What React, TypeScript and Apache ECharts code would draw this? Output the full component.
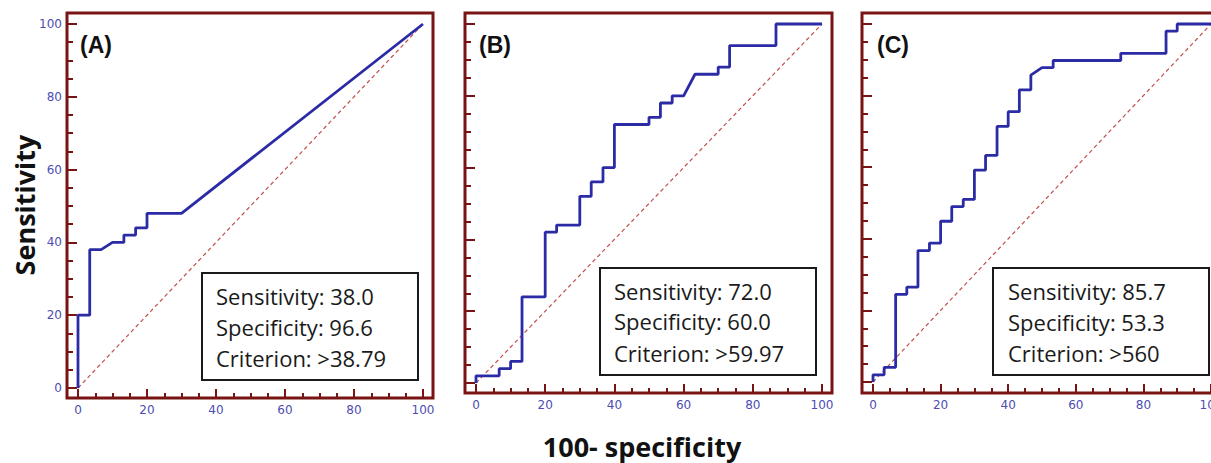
import React, { useEffect, useRef } from "react";
import * as echarts from "echarts";

// ROC curve points: [100 - specificity, sensitivity]
const rocA: number[][] = [
  [0, 0], [0, 20], [3.4, 20], [3.4, 38], [6.7, 38], [10, 40], [13.3, 40], [13.3, 42],
  [16.7, 42], [16.7, 44], [20, 44], [20, 48], [30, 48], [100, 100],
];
const rocB: number[][] = [
  [0, 0], [0, 2], [6.7, 2], [6.7, 4], [10, 4], [10, 6], [13.3, 6], [13.3, 24],
  [20, 24], [20, 42], [23.3, 42], [23.3, 44], [30, 44], [30, 52], [33.3, 52], [33.3, 56],
  [36.7, 56], [36.7, 60], [40, 60], [40, 72], [50, 72], [50, 74], [53.3, 74], [53.3, 78],
  [56.7, 78], [56.7, 80], [60, 80], [63.3, 86], [70, 86], [70, 88], [73.3, 88], [73.3, 94],
  [86.7, 94], [86.7, 100], [100, 100],
];
const rocC: number[][] = [
  [0, 0], [0, 2], [3.3, 2], [3.3, 4.1], [6.7, 4.1], [6.7, 24.5], [10, 24.5], [10, 26.5],
  [13.3, 26.5], [13.3, 36.7], [16.7, 36.7], [16.7, 38.8], [20, 38.8], [20, 44.9], [23.3, 44.9],
  [23.3, 49], [26.7, 49], [26.7, 51], [30, 51], [30, 59.2], [33.3, 59.2], [33.3, 63.3],
  [36.7, 63.3], [36.7, 71.4], [40, 71.4], [40, 75.5], [43.3, 75.5], [43.3, 81.6], [46.7, 81.6],
  [46.7, 85.7], [50, 87.8], [53.3, 87.8], [53.3, 89.8], [73.3, 89.8], [73.3, 91.8], [86.7, 91.8],
  [86.7, 98], [90, 98], [90, 100], [100, 100],
];
const reference: number[][] = [[0, 0], [100, 100]];
const majorTicks = [0, 20, 40, 60, 80, 100];
const minorTicks = [5, 10, 15, 25, 30, 35, 45, 50, 55, 65, 70, 75, 85, 90, 95];
const panelLabels = ["(A)", "(B)", "(C)"];
const boxLines = [
  ["Sensitivity: 38.0", "Specificity: 96.6", "Criterion: >38.79"],
  ["Sensitivity: 72.0", "Specificity: 60.0", "Criterion: >59.97"],
  ["Sensitivity: 85.7", "Specificity: 53.3", "Criterion: >560"],
];
const xTitle = "100- specificity";
const yTitle = "Sensitivity";

const FRAME = "#7a1414";
const CURVE = "#2b2ba6";
const LABEL = "#4d4db3";
const NUM_FONT = "'DejaVu Sans', Verdana, sans-serif";
const BOX_FONT = "'Open Sans', 'Noto Sans', sans-serif";

// layout (pixels): frame rect and where data 0 / 100 fall
const panels = [
  { frame: [67, 13, 433, 398], x0: 78, x100: 423, y0: 388, y100: 24, box: [202, 273, 216, 107], textX: 216, textY: [296, 327, 358], labelX: 80, yLabels: true },
  { frame: [465, 13, 832, 393], x0: 476, x100: 822, y0: 383, y100: 24, box: [600, 268, 216, 107], textX: 614, textY: [291, 321, 353], labelX: 479, yLabels: false },
  { frame: [862, 13, 1222, 393], x0: 873, x100: 1211, y0: 382, y100: 24, box: [993, 268, 216, 107], textX: 1008, textY: [291, 322, 353], labelX: 877, yLabels: false },
];

export default function App() {
  const ref = useRef<HTMLDivElement>(null);
  useEffect(() => {
    if (!ref.current) return;
    const chart = echarts.init(ref.current, undefined, { renderer: "svg" });
    const data = [rocA, rocB, rocC];
    const tickStyle = { color: FRAME, width: 2 };
    const graphics: any[] = [];
    const xAxes: any[] = [];
    const yAxes: any[] = [];
    const gridsOpt: any[] = [];

    panels.forEach((p, i) => {
      const [fl, ft, fr, fb] = p.frame;
      const sx = (p.x100 - p.x0) / 100;
      const sy = (p.y0 - p.y100) / 100;
      const xmin = -(p.x0 - fl) / sx;
      const xmax = 100 + (fr - p.x100) / sx;
      const ymin = -(fb - p.y0) / sy;
      const ymax = 100 + (p.y100 - ft) / sy;
      gridsOpt.push({
        left: fl, top: ft, width: fr - fl, height: fb - ft, containLabel: false, outerBoundsMode: "none",
        show: true, borderColor: FRAME, borderWidth: 3, backgroundColor: "transparent",
      });
      const baseX = {
        gridIndex: i, type: "value", min: xmin, max: xmax, position: "bottom",
        axisLine: { show: false, onZero: false }, splitLine: { show: false },
      };
      xAxes.push({
        ...baseX,
        axisTick: { show: true, inside: true, length: 9, lineStyle: tickStyle, customValues: majorTicks },
        axisLabel: { show: true, color: LABEL, fontSize: 12, fontFamily: NUM_FONT, margin: 6, customValues: majorTicks },
      });
      xAxes.push({
        ...baseX,
        axisTick: { show: true, inside: true, length: 5, lineStyle: tickStyle, customValues: minorTicks },
        axisLabel: { show: false },
      });
      const baseY = {
        gridIndex: i, type: "value", min: ymin, max: ymax, position: "left",
        axisLine: { show: false, onZero: false }, splitLine: { show: false },
      };
      yAxes.push({
        ...baseY,
        axisTick: { show: true, inside: true, length: 10, lineStyle: tickStyle, customValues: majorTicks },
        axisLabel: { show: p.yLabels, color: LABEL, fontSize: 12, fontFamily: NUM_FONT, margin: 5, customValues: majorTicks },
      });
      yAxes.push({
        ...baseY,
        axisTick: { show: true, inside: true, length: 6, lineStyle: tickStyle, customValues: minorTicks },
        axisLabel: { show: false },
      });

      graphics.push({
        type: "rect", shape: { x: p.box[0], y: p.box[1], width: p.box[2], height: p.box[3] },
        style: { fill: "#fff", stroke: "#1a1a1a", lineWidth: 2 }, z: 11,
      });
      boxLines[i].forEach((t, j) => {
        graphics.push({
          type: "text", x: p.textX, y: p.textY[j], z: 12,
          style: { text: t, font: `22px ${BOX_FONT}`, fill: "#1a1a1a", align: "left", verticalAlign: "middle" },
        });
      });
      graphics.push({
        type: "text", x: p.labelX, y: 45, z: 12,
        style: { text: panelLabels[i], font: `bold 23px 'Liberation Sans', Arial, sans-serif`, fill: "#111", align: "left", verticalAlign: "middle" },
      });
    });
    graphics.push({
      type: "text", x: 24, y: 205, rotation: Math.PI / 2, z: 12,
      style: { text: yTitle, font: `bold 27px ${BOX_FONT}`, fill: "#111", align: "center", verticalAlign: "middle" },
    });
    graphics.push({
      type: "text", x: 642, y: 446, z: 12,
      style: { text: xTitle, font: `bold 27px ${BOX_FONT}`, fill: "#111", align: "center", verticalAlign: "middle" },
    });

    chart.setOption({
      animation: false,
      backgroundColor: "#fff",
      grid: gridsOpt,
      xAxis: xAxes,
      yAxis: yAxes,
      series: [
        ...data.map((d, i) => ({
          type: "line", xAxisIndex: i * 2, yAxisIndex: i * 2, data: reference, showSymbol: false, symbol: "none",
          lineStyle: { color: "#c0504d", width: 1.2, type: [4, 3] }, z: 2, silent: true,
        })),
        ...data.map((d, i) => ({
          type: "line", xAxisIndex: i * 2, yAxisIndex: i * 2, data: d, showSymbol: false, symbol: "none",
          lineStyle: { color: CURVE, width: 2.8 }, z: 3, silent: true,
        })),
      ],
      graphic: graphics,
    });
    return () => chart.dispose();
  }, []);
  return <div ref={ref} style={{ position: "absolute", left: 0, top: 0, width: 1211, height: 463 }} />;
}
